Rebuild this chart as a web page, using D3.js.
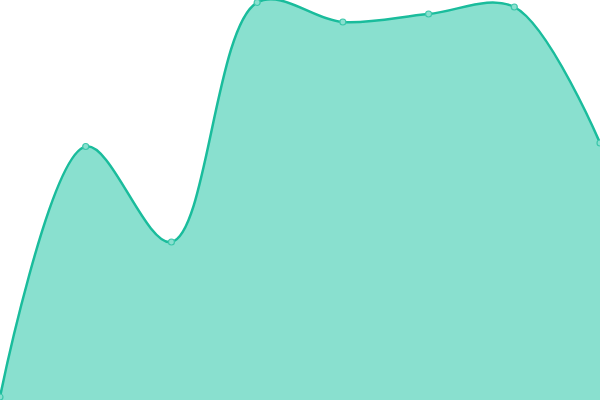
<!DOCTYPE html>
<html>
<head>
<meta charset="utf-8">
<script src="https://cdn.jsdelivr.net/npm/d3@7"></script>
<style>
  html, body { margin: 0; padding: 0; background: #fff; }
  svg { display: block; }
</style>
</head>
<body>
<script>
const categories = ["A", "B", "C", "D", "E", "F", "G", "H"];
const values = [3, 253.5, 158, 397.5, 378, 386, 393, 257];

const width = 600, height = 400;

const x = d3.scalePoint().domain(categories).range([0, width]);
const y = d3.scaleLinear().domain([0, 400]).range([height, 0]);

const data = categories.map((c, i) => ({ c, v: values[i] }));

const svg = d3.select("body").append("svg")
  .attr("width", width)
  .attr("height", height);

const curve = d3.curveCatmullRom;

svg.append("path")
  .datum(data)
  .attr("fill", "#89e0cf")
  .attr("d", d3.area().curve(curve).x(d => x(d.c)).y0(y(0)).y1(d => y(d.v)));

svg.append("path")
  .datum(data)
  .attr("fill", "none")
  .attr("stroke", "#1abc9c")
  .attr("stroke-width", 2.5)
  .attr("d", d3.line().curve(curve).x(d => x(d.c)).y(d => y(d.v)));

svg.selectAll("circle")
  .data(data)
  .join("circle")
  .attr("cx", d => x(d.c))
  .attr("cy", d => y(d.v))
  .attr("r", 3)
  .attr("fill", "#89e0cf")
  .attr("stroke", "#3cc7ab")
  .attr("stroke-width", 1.2);
</script>
</body>
</html>
